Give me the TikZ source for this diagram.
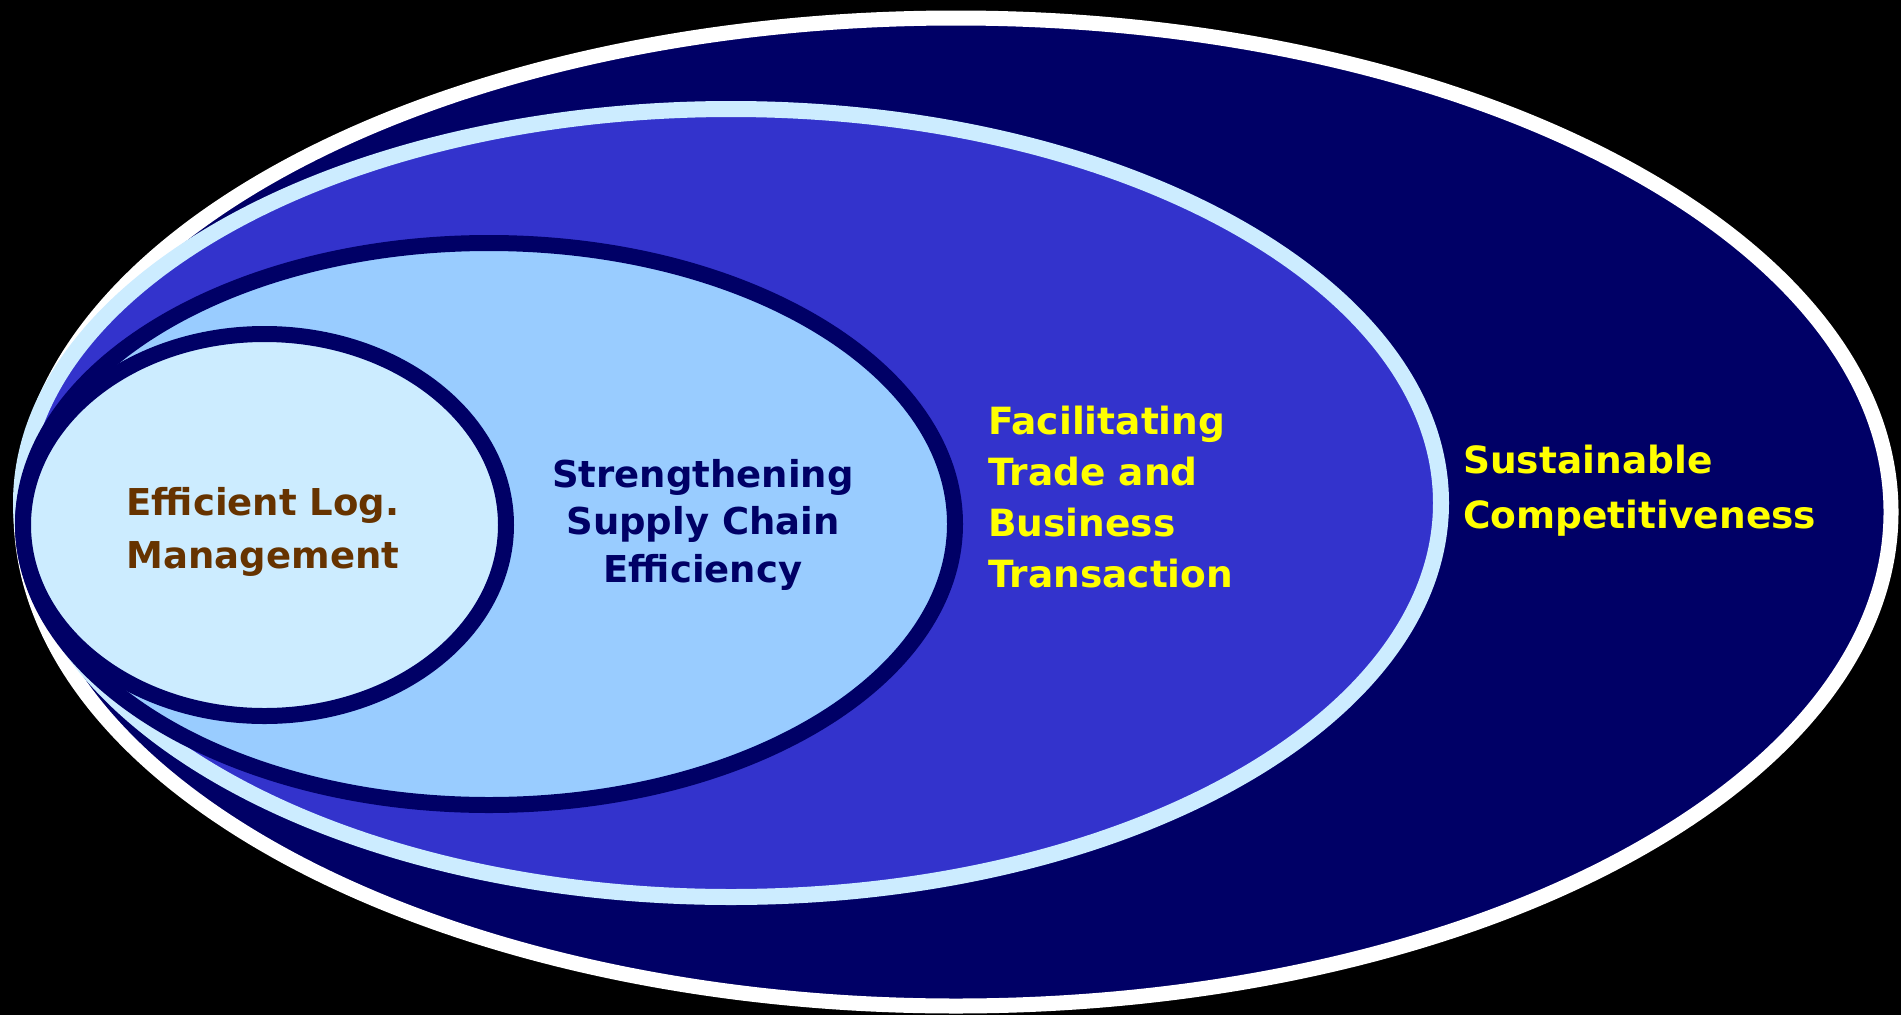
\documentclass[tikz,border=0pt]{standalone}
\usepackage{fontspec}
\setmainfont{DejaVu Sans}
\definecolor{navy}{HTML}{000066}
\definecolor{royal}{HTML}{3333CC}
\definecolor{pale}{HTML}{CCECFF}
\definecolor{sky}{HTML}{99CCFF}
\definecolor{brownt}{HTML}{663300}
\definecolor{yel}{HTML}{FFFF00}
\begin{document}
\begin{tikzpicture}[x=1pt,y=-1pt,
  lbl/.style={inner sep=0pt,font=\bfseries\fontsize{37.5}{51}\selectfont}]
\fill[black] (0,0) rectangle (1901,1015);
\useasboundingbox (0,0) rectangle (1901,1015);
\draw[line width=15pt,draw=white,fill=navy] (956,512) ellipse [x radius=935, y radius=494];
\draw[line width=16pt,draw=pale,fill=royal] (731,503) ellipse [x radius=710, y radius=394];
\draw[line width=16pt,draw=navy,fill=sky] (489,524) ellipse [x radius=466, y radius=281];
\draw[line width=16pt,draw=navy,fill=pale] (264.5,525) ellipse [x radius=241.5, y radius=191];
\node[lbl,text=brownt,align=center,anchor=base,font=\bfseries\fontsize{37}{53}\selectfont] (eff) at (263,568) {Efficient Log.\\Management};
\node[lbl,text=navy,align=center,anchor=base,font=\bfseries\fontsize{37}{47.5}\selectfont] (str) at (703,582) {Strengthening\\Supply Chain\\Efficiency};
\node[lbl,text=yel,align=left,anchor=base west] (fac) at (988,587) {Facilitating\\Trade and\\Business\\Transaction};
\node[lbl,text=yel,align=left,anchor=base west,font=\bfseries\fontsize{37.5}{55}\selectfont] (sus) at (1463,528) {Sustainable\\Competitiveness};
\end{tikzpicture}
\end{document}
